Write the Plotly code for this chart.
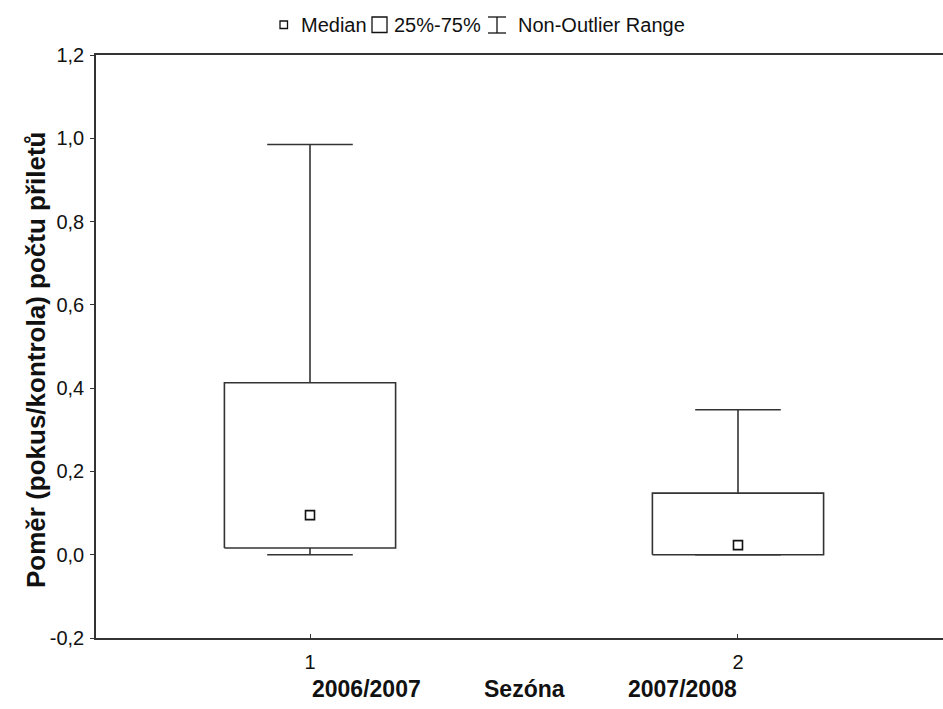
import plotly.graph_objects as go

# Box-plot summary per season (ratio experiment/control of fly-by counts)
categories = [1, 2]
season_labels = ["2006/2007", "2007/2008"]
medians = [0.095, 0.023]
q1 = [0.016, 0.0]
q3 = [0.413, 0.148]
whisker_low = [0.0, 0.0]
whisker_high = [0.985, 0.348]

y_ticks = [-0.2, 0.0, 0.2, 0.4, 0.6, 0.8, 1.0, 1.2]
y_tick_labels = ["-0,2", "0,0", "0,2", "0,4", "0,6", "0,8", "1,0", "1,2"]

LINE = "#333333"
FONT = "Liberation Sans, Arial, sans-serif"
BOX_HW = 0.2     # half box width in category units
CAP_HW = 0.1     # half whisker-cap width

W, H = 943, 709
ML, MR, MT, MB = 96, 0, 55, 71
PW, PH = W - ML - MR, H - MT - MB


def px(x):
    return (x - ML) / PW


def py(y):
    return (H - MB - y) / PH


fig = go.Figure()

for c, lo, a, b, hi in zip(categories, whisker_low, q1, q3, whisker_high):
    # box outline
    fig.add_trace(go.Scatter(
        x=[c - BOX_HW, c + BOX_HW, c + BOX_HW, c - BOX_HW, c - BOX_HW],
        y=[a, a, b, b, a], mode="lines",
        line=dict(color=LINE, width=1.6), hoverinfo="skip", showlegend=False))
    # whiskers with caps
    fig.add_trace(go.Scatter(
        x=[c, c, None, c - CAP_HW, c + CAP_HW, None,
           c, c, None, c - CAP_HW, c + CAP_HW],
        y=[b, hi, None, hi, hi, None,
           a, lo, None, lo, lo], mode="lines",
        line=dict(color=LINE, width=1.6), hoverinfo="skip", showlegend=False))

fig.add_trace(go.Scatter(
    x=categories, y=medians, mode="markers",
    marker=dict(symbol="square-open", size=9, color="#111111",
                line=dict(width=1.6, color="#111111")),
    showlegend=False))

shapes = []
annotations = []

# legend strip across the top
shapes.append(dict(type="rect", xref="paper", yref="paper",
                   x0=px(280), x1=px(287.5), y0=py(28.5), y1=py(21),
                   line=dict(color="#111111", width=1.3)))
shapes.append(dict(type="rect", xref="paper", yref="paper",
                   x0=px(372), x1=px(387), y0=py(32.5), y1=py(17),
                   line=dict(color="#111111", width=1.3)))
for seg in [((488, 17), (506, 17)), ((497, 17), (497, 33)), ((488, 33), (506, 33))]:
    shapes.append(dict(type="line", xref="paper", yref="paper",
                       x0=px(seg[0][0]), y0=py(seg[0][1]),
                       x1=px(seg[1][0]), y1=py(seg[1][1]),
                       line=dict(color="#111111", width=1.3)))
for txt, x0 in [("Median", 299), ("25%-75%", 392), ("Non-Outlier Range", 516)]:
    annotations.append(dict(text=txt, xref="paper", yref="paper",
                            x=px(x0), y=py(25), xanchor="left", yanchor="middle",
                            showarrow=False, font=dict(family=FONT, size=20, color="#111111")))

# axis titles
annotations.append(dict(text="Poměr (pokus/kontrola) počtu přiletů",
                        xref="paper", yref="paper", x=px(36), y=py(360),
                        xanchor="center", yanchor="middle", textangle=-90,
                        showarrow=False,
                        font=dict(family=FONT, size=26, color="#111111", weight="bold")))
for txt, xc in [(season_labels[0], 366), ("Sezóna", 524), (season_labels[1], 682)]:
    annotations.append(dict(text=txt, xref="paper", yref="paper",
                            x=px(xc), y=py(689), xanchor="center", yanchor="middle",
                            showarrow=False,
                            font=dict(family=FONT, size=23, color="#111111", weight="bold")))

fig.update_layout(
    width=W, height=H,
    margin=dict(l=ML, r=MR, t=MT, b=MB, pad=0),
    paper_bgcolor="white", plot_bgcolor="white",
    shapes=shapes, annotations=annotations,
    font=dict(family=FONT, size=20, color="#111111"),
    xaxis=dict(range=[0.5, 2.479], tickmode="array", tickvals=categories,
               ticktext=[str(c) for c in categories],
               showgrid=False, zeroline=False, showline=True, linecolor=LINE,
               linewidth=1.6, mirror=True, ticks="inside", ticklen=4,
               tickcolor=LINE, ticklabelstandoff=5,
               tickfont=dict(family=FONT, size=20, color="#111111")),
    yaxis=dict(range=[-0.2, 1.2], tickmode="array", tickvals=y_ticks,
               ticktext=y_tick_labels, showgrid=False, zeroline=False,
               showline=True, linecolor=LINE, linewidth=1.6,
               ticks="outside", ticklen=4, tickcolor=LINE,
               ticklabelstandoff=2,
               tickfont=dict(family=FONT, size=20, color="#111111")),
)

fig.write_html("out.html")
